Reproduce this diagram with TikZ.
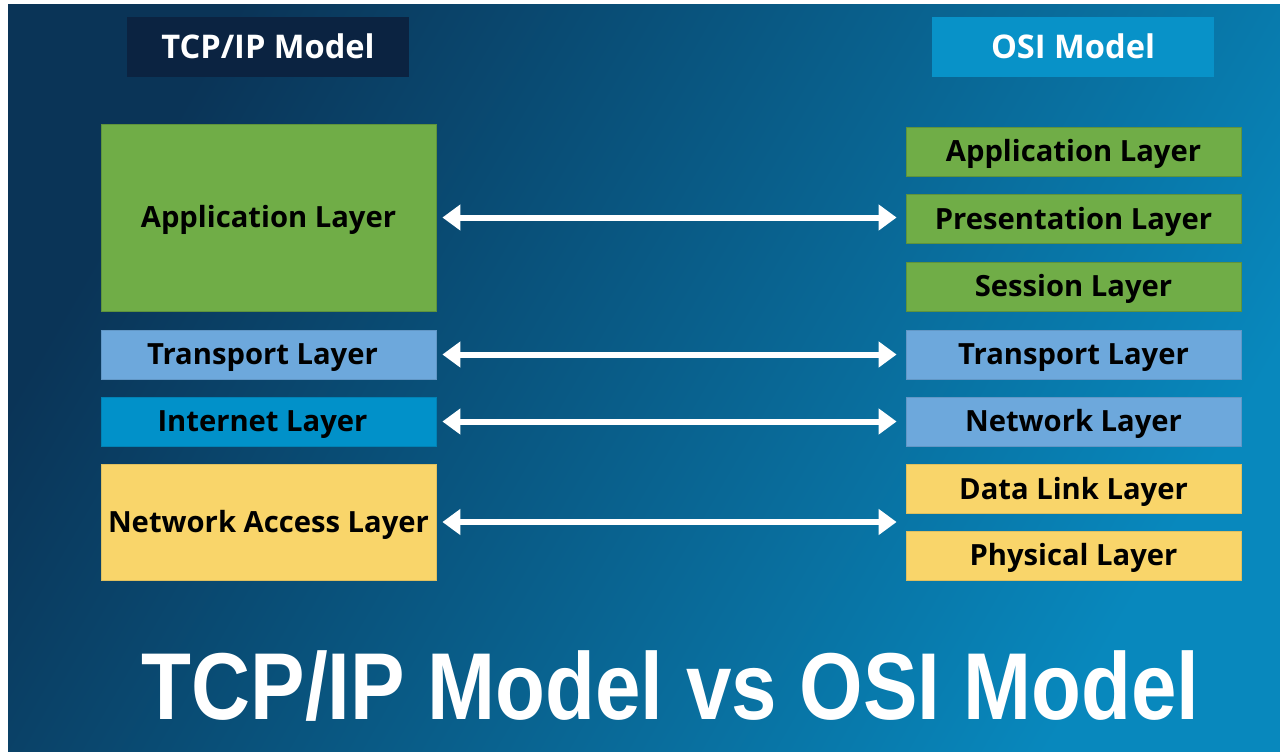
\documentclass[tikz,border=0pt]{standalone}
\usepackage{fontspec}
\usepackage{graphicx}
\setmainfont{Open Sans}
\newfontfamily\titlefont{Liberation Sans}
\usetikzlibrary{arrows.meta}
\definecolor{bgA}{HTML}{0A3457}
\definecolor{bgB}{HTML}{0888BD}
\definecolor{hdrDark}{HTML}{0B2341}
\definecolor{hdrLight}{HTML}{0892C8}
\definecolor{lgreen}{HTML}{70AD47}
\definecolor{lblue}{HTML}{6DA8DC}
\definecolor{lcyan}{HTML}{0191C9}
\definecolor{lyellow}{HTML}{F9D56A}
\tikzset{
  hdr/.style={minimum width=141pt, minimum height=30pt, inner sep=0pt, text=white,
    font=\fontsize{16.3}{19}\selectfont\bfseries, text height=11.5pt, text depth=0pt},
  layer/.style={minimum width=167.5pt, inner sep=0pt, text=black,
    font=\fontsize{14.6}{17}\selectfont\bfseries, text height=10.3pt, text depth=0pt},
  small/.style={layer, minimum height=24.5pt},
  arr/.style={draw=white, line width=3pt, {Triangle[width=12.5pt,length=9pt]}-{Triangle[width=12.5pt,length=9pt]}}
}
\begin{document}
\begin{tikzpicture}[x=0.5pt,y=-0.5pt]
\useasboundingbox (0,0) rectangle (1280,751);
\fill[white] (0,0) rectangle (1280,751);
\shade[top color=bgA, bottom color=bgB, shading angle=60] (8,4) rectangle (1280,751);

% headers
\node[hdr, fill=hdrDark] (htcp) at (268,47) {TCP/IP Model};
\node[hdr, fill=hdrLight] (hosi) at (1073,47) {OSI Model};

% TCP/IP layers
\node[layer, fill=lgreen, draw=lgreen!85!black, line width=0.4pt, minimum height=93.5pt] (tapp) at (268.5,217.5) {Application Layer};
\node[small, fill=lblue, draw=lblue!90!black, line width=0.4pt] (ttrans) at (268.5,354.5) {\kern-6pt Transport Layer};
\node[small, fill=lcyan, draw=lcyan!90!black, line width=0.4pt] (tinet) at (268.5,421.5) {\kern-6pt Internet Layer};
\node[layer, fill=lyellow, draw=lyellow!90!black, line width=0.4pt, minimum height=58pt] (tnet) at (268.5,522) {Network Access Layer};

% OSI layers
\node[small, fill=lgreen, draw=lgreen!85!black, line width=0.4pt] (oapp) at (1073.5,151.5) {Application Layer};
\node[small, fill=lgreen, draw=lgreen!85!black, line width=0.4pt] (opres) at (1073.5,219) {Presentation Layer};
\node[small, fill=lgreen, draw=lgreen!85!black, line width=0.4pt] (osess) at (1073.5,286.5) {Session Layer};
\node[small, fill=lblue, draw=lblue!90!black, line width=0.4pt] (otrans) at (1073.5,354.5) {Transport Layer};
\node[small, fill=lblue, draw=lblue!90!black, line width=0.4pt] (onet) at (1073.5,421.5) {Network Layer};
\node[small, fill=lyellow, draw=lyellow!90!black, line width=0.4pt] (odl) at (1073.5,489) {Data Link Layer};
\node[small, fill=lyellow, draw=lyellow!90!black, line width=0.4pt] (ophys) at (1073.5,555.5) {Physical Layer};

% arrows
\draw[arr, shorten <=3pt, shorten >=4.5pt] (tapp.east) -- (tapp.east -| opres.west);
\draw[arr, shorten <=3pt, shorten >=4.5pt] (ttrans.east) -- (otrans.west);
\draw[arr, shorten <=3pt, shorten >=4.5pt] (tinet.east) -- (onet.west);
\draw[arr, shorten <=3pt, shorten >=4.5pt] (tnet.east) -- (tnet.east -| odl.west);

% title
\node[anchor=base, text=white, inner sep=0pt] (title) at (670.5,719)
  {\scalebox{0.86}[1]{\titlefont\fontsize{47.5}{55}\selectfont\bfseries TCP/IP Model vs OSI Model}};
\end{tikzpicture}
\end{document}
